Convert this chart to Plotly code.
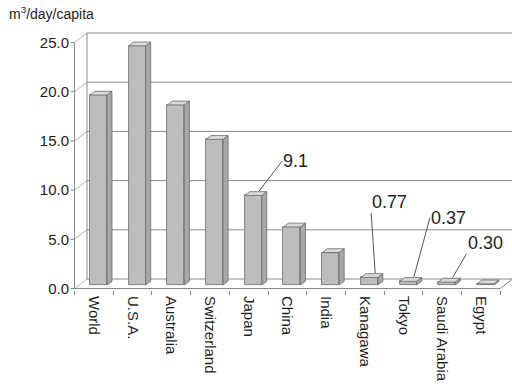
import plotly.graph_objects as go

# Daily water use per person
categories = ["World", "U.S.A.", "Australia", "Switzerland", "Japan", "China",
              "India", "Kanagawa", "Tokyo", "Saudi Arabia", "Egypt"]
values = [19.3, 24.3, 18.3, 14.8, 9.1, 5.9, 3.3, 0.77, 0.37, 0.30, 0.12]
y_ticks = [0, 5, 10, 15, 20, 25]
labelled = ["Japan", "Kanagawa", "Tokyo", "Saudi Arabia"]

# pseudo-3D geometry (in axis units)
DX, DY = 0.323, 0.965          # depth offset of the back wall
F0 = 0.37                      # depth at which the bar fronts sit
BAR_W = 0.44
BAR_D = 0.40                   # bar depth as a fraction of the box depth
fx, fy = F0 * DX, F0 * DY
bdx, bdy = BAR_D * DX, BAR_D * DY

FRONT = "#bdbdbd"
SIDE = "#a8a8a8"
TOP = "#dadada"
EDGE = "#6a6a6a"
GRID = "#8a8a8a"
FONT = "Liberation Sans, Arial, sans-serif"
TXT = "#1e1e1e"

n = len(categories)
x_lo, x_hi = -0.5, n - 0.5
y_top = y_ticks[-1]

shapes = []


def seg(x0, y0, x1, y1, color=GRID, width=1):
    shapes.append(dict(type="line", xref="x", yref="y", x0=x0, y0=y0, x1=x1, y1=y1,
                       line=dict(color=color, width=width), layer="below"))


# back wall gridlines and side-wall diagonals
for v in y_ticks:
    seg(x_lo + DX, v + DY, x_hi + DX, v + DY)
    seg(x_lo, v, x_lo + DX, v + DY, color="#b4b4b4")
    seg(x_lo - 0.1, v, x_lo, v)
# back wall left edge, front axis, floor
seg(x_lo + DX, DY, x_lo + DX, y_top + DY)
seg(x_lo, 0, x_lo, y_top)
seg(x_lo, 0, x_hi, 0)
seg(x_hi, 0, x_hi + DX, DY)

fig = go.Figure()

# bar fronts
xs = [i + fx for i in range(n)]
fig.add_trace(go.Bar(
    x=xs, y=values, base=fy, width=BAR_W,
    marker=dict(color=FRONT, line=dict(color=EDGE, width=0.8)),
    hoverinfo="skip", showlegend=False))

# bar sides and tops
sx, sy, tx, ty = [], [], [], []
for xc, v in zip(xs, values):
    xl, xr = xc - BAR_W / 2, xc + BAR_W / 2
    t = fy + v
    sx += [xr, xr + bdx, xr + bdx, xr, xr, None]
    sy += [fy, fy + bdy, t + bdy, t, fy, None]
    tx += [xl, xr, xr + bdx, xl + bdx, xl, None]
    ty += [t, t, t + bdy, t + bdy, t, None]

fig.add_trace(go.Scatter(x=sx, y=sy, mode="lines", fill="toself", fillcolor=SIDE,
                         line=dict(color=EDGE, width=0.8), hoverinfo="skip",
                         showlegend=False))
fig.add_trace(go.Scatter(x=tx, y=ty, mode="lines", fill="toself", fillcolor=TOP,
                         line=dict(color=EDGE, width=0.8), hoverinfo="skip",
                         showlegend=False))

# value callouts with leader lines
callout_style = {
    "Japan": dict(ax=23, ay=-30, xanchor="left", yanchor="middle"),
    "Kanagawa": dict(ax=-4, ay=-60, xanchor="left", yanchor="bottom"),
    "Tokyo": dict(ax=16, ay=-59, xanchor="left", yanchor="middle"),
    "Saudi Arabia": dict(ax=14, ay=-24, xanchor="left", yanchor="bottom"),
}
annotations = []
for name in labelled:
    i = categories.index(name)
    v = values[i]
    annotations.append(dict(
        x=xs[i] + 0.15, y=fy + v + 0.45, xref="x", yref="y",
        text=f"{v:.2f}" if v < 1 else f"{v:.1f}",
        showarrow=True, arrowhead=0, arrowwidth=1, arrowcolor="#555555",
        standoff=0, startstandoff=0, borderpad=0,
        font=dict(family=FONT, size=18, color=TXT),
        **callout_style[name]))

fig.update_layout(
    width=512, height=390,
    margin=dict(l=70, r=0, t=30, b=100),
    paper_bgcolor="white", plot_bgcolor="white",
    shapes=shapes, annotations=annotations,
    bargap=0,
    title=dict(text="m<sup>3</sup>/day/capita", x=9 / 512, xanchor="left",
               y=1 - 14 / 390, yanchor="middle", xref="container", yref="container",
               font=dict(family=FONT, size=14, color=TXT)),
    xaxis=dict(range=[-0.6163, 10.805], tickmode="array", tickvals=list(range(n)),
               ticktext=categories, tickangle=90, ticks="", showgrid=False,
               zeroline=False, showline=False, ticklabelstandoff=5,
               tickfont=dict(family=FONT, size=15, color=TXT),
               minor=dict(ticks="outside", ticklen=4, tick0=-0.5, dtick=1,
                          tickcolor=GRID, showgrid=False)),
    yaxis=dict(range=[-0.15, 26.27], tickmode="array", tickvals=y_ticks,
               ticktext=[f"{t:.1f}" for t in y_ticks], ticks="", showgrid=False,
               zeroline=False, showline=False,
               tickfont=dict(family=FONT, size=15, color=TXT)),
)

fig.write_html("out.html")
